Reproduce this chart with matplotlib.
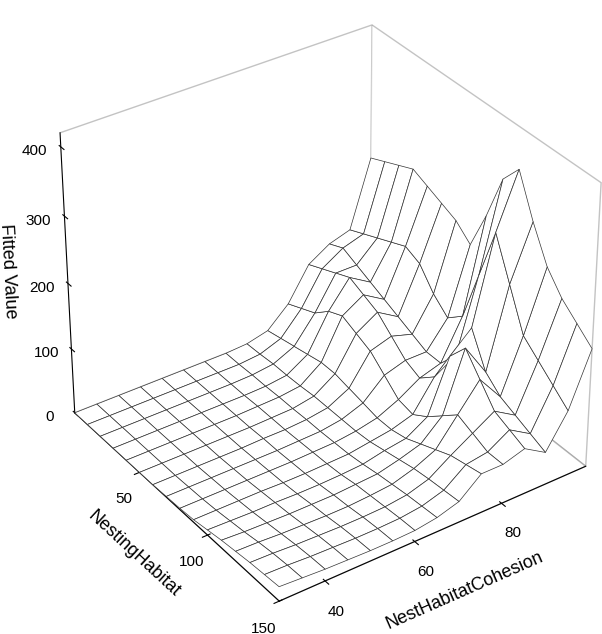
import numpy as np
import matplotlib
matplotlib.use("Agg")
import matplotlib.pyplot as plt

plt.rcParams['font.family'] = ['Liberation Sans', 'DejaVu Sans']

habitat = [0,10,20,30,40,50,60,70,80,90,100,110,120,130,140,150]
cohesion = [30,35,40,45,50,55,60,65,70,75,80,85,90,95,100]
fitted = [
 [0,0,0,0,0,0,0,0,2,10,40,90,110,120,220],
 [0,0,0,0,0,0,0,0,3,15,50,100,120,130,230],
 [0,0,0,0,0,0,0,1,5,20,60,110,110,140,240],
 [0,0,0,0,0,0,0,1,5,25,80,120,100,150,250],
 [0,0,0,0,0,0,1,2,6,30,90,110,90,160,240],
 [0,0,0,0,0,0,1,2,8,30,80,100,80,150,230],
 [0,0,0,0,0,1,1,3,8,25,70,80,70,120,220],
 [1,1,1,1,1,1,2,3,8,20,50,60,60,100,200],
 [2,2,2,2,2,2,3,4,8,15,30,50,60,120,260],
 [4,4,4,4,3,3,4,5,10,15,25,70,90,200,330],
 [8,7,6,6,5,5,6,8,15,20,40,120,150,280,360],
 [12,10,9,8,8,8,10,12,20,30,60,150,100,220,300],
 [15,14,12,11,10,10,12,15,25,40,80,120,80,160,250],
 [18,17,15,14,13,13,14,18,28,50,70,90,70,140,220],
 [20,19,17,16,15,15,16,20,30,55,60,80,60,120,200],
 [22,20,18,17,16,16,17,22,32,60,60,70,50,100,180],
]

Y, X = np.meshgrid(cohesion, habitat)
Z = np.array(fitted, dtype=float)

fig = plt.figure(figsize=(6.02, 6.34), dpi=100)
ax = fig.add_axes([0.02, -0.06, 1.02, 1.14], projection='3d')
ax.set_box_aspect((1, 1, 0.9))
ax.plot_surface(X, Y, Z, color='white', edgecolor='#333333', linewidth=0.5,
                shade=False, rstride=1, cstride=1)
ax.view_init(elev=34, azim=-35)
ax.set_xlim(0, 150); ax.set_ylim(30, 100); ax.set_zlim(0, 420)
for a in (ax.xaxis, ax.yaxis, ax.zaxis):
    a.pane.set_facecolor('white')
    a.pane.set_edgecolor('#888888')
    a._axinfo['grid']['linewidth'] = 0
ax.grid(False)
ax.zaxis._axinfo['juggled'] = (1, 2, 0)
ax.set_yticks([40, 60, 80]); ax.set_xticks([50, 100, 150]); ax.set_zticks([0,100,200,300,400])
ax.tick_params(labelsize=11)
ax.set_ylabel('NestHabitatCohesion', fontsize=13, labelpad=8)
ax.set_xlabel('NestingHabitat', fontsize=13, labelpad=8)
ax.set_zlabel('Fitted Value', fontsize=13, labelpad=6)
fig.savefig('out.png', dpi=100)
